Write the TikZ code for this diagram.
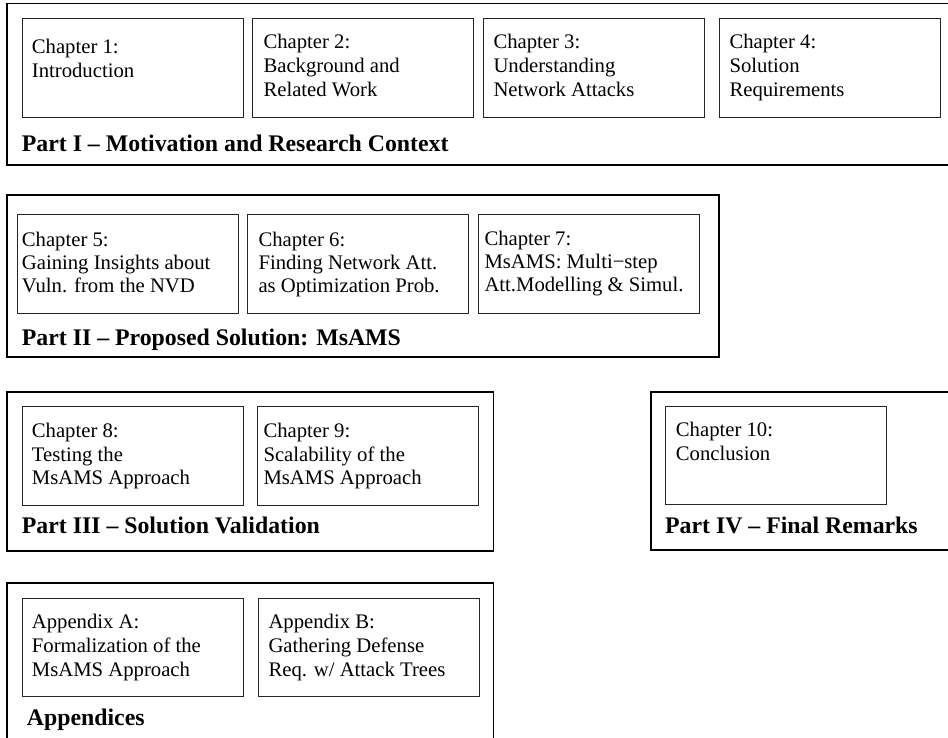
\documentclass[tikz,border=0pt]{standalone}
\usepackage{fontspec}
\setmainfont{Liberation Serif}
\begin{document}
\begin{tikzpicture}[x=1pt,y=-1pt,
  partbox/.style={draw=black,line width=1.6pt},
  chapbox/.style={draw=black!85,line width=1pt,inner sep=0pt,anchor=north west},
  % multi-line text: the base anchor sits on the last line
  chaptext/.style={anchor=base west,inner sep=0pt,align=left,
    font=\fontsize{20.7}{#1}\selectfont},
  chaptext/.default=24,
  parttext/.style={anchor=base west,inner sep=0pt,
    font=\fontsize{23.8}{28}\selectfont\bfseries}]
\useasboundingbox (0,0) rectangle (948,738);
\clip (0,0) rectangle (948,738);

% Part I
\draw[partbox] (7,3.5) rectangle (960,165);
\node[chapbox,minimum width=221pt,minimum height=98.4pt] (b1) at (21.7,18.3) {};
\node[chapbox,minimum width=221pt,minimum height=98.4pt] (b2) at (252.3,18.3) {};
\node[chapbox,minimum width=221pt,minimum height=98.4pt] (b3) at (483.3,18.3) {};
\node[chapbox,minimum width=221pt,minimum height=98.4pt] (b4) at (719.3,18.3) {};
\node[chaptext] (t1) at (31.7,77.7) {Chapter 1:\\Introduction};
\node[chaptext] (t2) at (263.3,96.7) {Chapter 2:\\Background and\\Related Work};
\node[chaptext] (t3) at (493.3,96.7) {Chapter 3:\\Understanding\\Network Attacks};
\node[chaptext] (t4) at (729.3,96.7) {Chapter 4:\\Solution\\Requirements};
\node[parttext] (p1) at (21.7,151.7) {Part I – Motivation and Research Context};

% Part II
\draw[partbox] (6.7,195) rectangle (719,356.7);
\node[chapbox,minimum width=221pt,minimum height=99pt] (b5) at (16.7,214.3) {};
\node[chapbox,minimum width=221pt,minimum height=99pt] (b6) at (247.3,214.3) {};
\node[chapbox,minimum width=221pt,minimum height=99pt] (b7) at (478.3,214.3) {};
\node[chaptext=23] (t5) at (21.7,292.7) {Chapter 5:\\Gaining Insights about\\Vuln. from the NVD};
\node[chaptext=23] (t6) at (258.3,292.7) {Chapter 6:\\Finding Network Att.\\as Optimization Prob.};
\node[chaptext=23] (t7) at (484.3,291.7) {Chapter 7:\\MsAMS: Multi−step\\Att.Modelling \& Simul.};
\node[parttext] (p2) at (21.7,345.7) {Part II – Proposed Solution: MsAMS};

% Part III
\draw[partbox] (6.7,391.7) rectangle (493.3,550.7);
\node[chapbox,minimum width=221pt,minimum height=99pt] (b8) at (21.7,406) {};
\node[chapbox,minimum width=220.7pt,minimum height=99pt] (b9) at (257.3,406) {};
\node[chaptext=23.3] (t8) at (31.7,484.3) {Chapter 8:\\Testing the\\MsAMS Approach};
\node[chaptext=23.3] (t9) at (263.3,484.3) {Chapter 9:\\Scalability of the\\MsAMS Approach};
\node[parttext] (p3) at (21.7,533.3) {Part III – Solution Validation};

% Part IV
\draw[partbox] (650.7,391.7) rectangle (960,550);
\node[chapbox,minimum width=221pt,minimum height=98.3pt] (b10) at (665,406) {};
\node[chaptext] (t10) at (675.7,460.7) {Chapter 10:\\Conclusion};
\node[parttext] (p4) at (665,533.3) {Part IV – Final Remarks};

% Appendices
\draw[partbox] (6.7,582.7) rectangle (493.3,760);
\node[chapbox,minimum width=221pt,minimum height=97.7pt] (ba) at (21.7,598.3) {};
\node[chapbox,minimum width=221pt,minimum height=97.7pt] (bb) at (257.7,598.3) {};
\node[chaptext=23.8] (ta) at (31.7,676) {Appendix A:\\Formalization of the\\MsAMS Approach};
\node[chaptext=23.8] (tb) at (268.3,676) {Appendix B:\\Gathering Defense\\Req. w/ Attack Trees};
\node[parttext] (pa) at (26.7,725) {Appendices};
\end{tikzpicture}
\end{document}
